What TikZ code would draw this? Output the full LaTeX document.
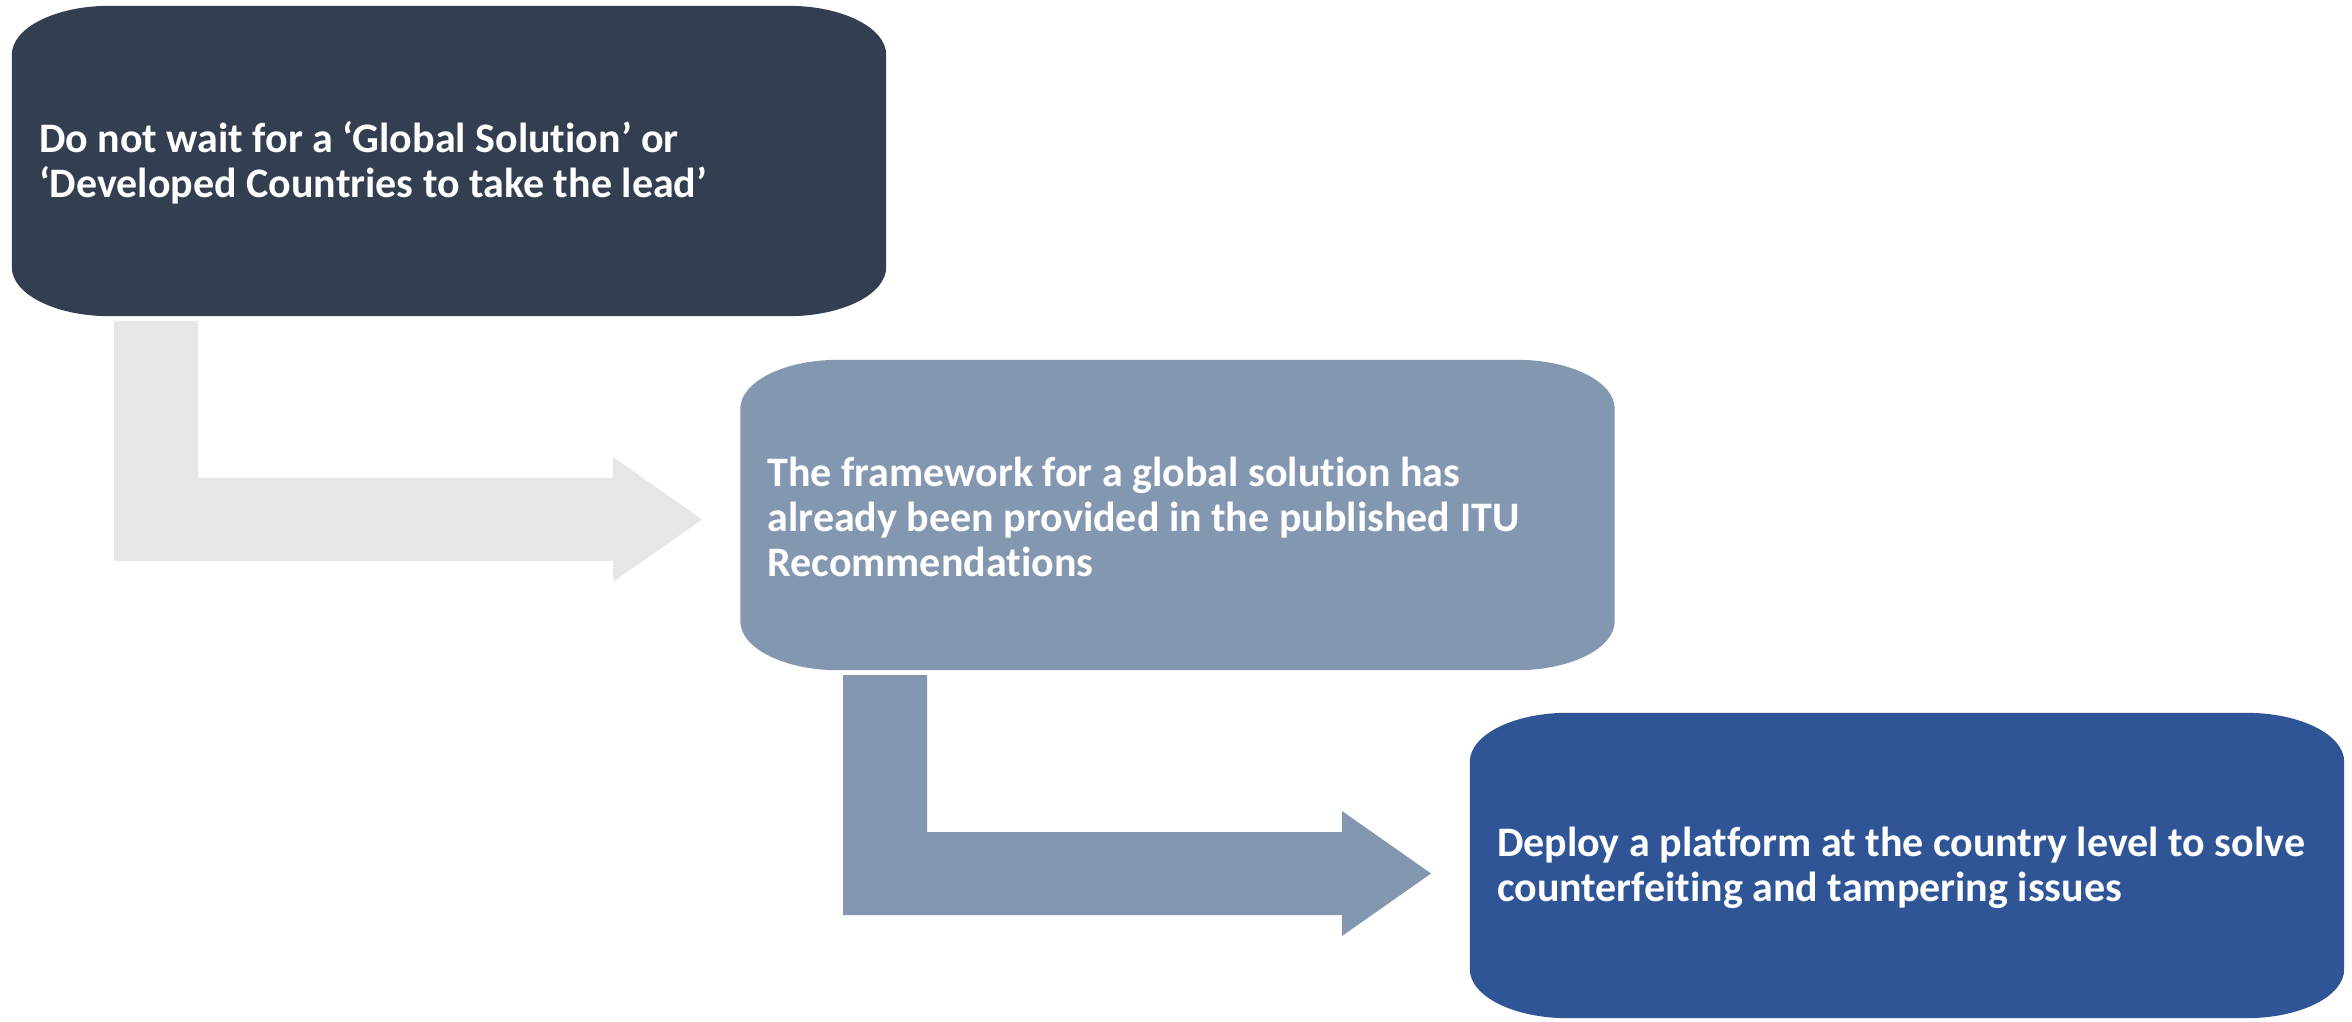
\documentclass[tikz,border=0pt]{standalone}
\usepackage{fontspec}
\setmainfont{Carlito}[Ligatures=NoCommon]
\usetikzlibrary{calc}
\pgfdeclarelayer{background}
\pgfsetlayers{background,main}
\definecolor{cdark}{HTML}{333F50}
\definecolor{cmid}{HTML}{8497B0}
\definecolor{cblue}{HTML}{2F5597}
\definecolor{clight}{HTML}{E6E6E6}
\newcommand\ebox[2]{%
 \begin{pgfonlayer}{background}
 \fill[#2] let \p1=(#1.north west), \p2=(#1.south east) in
  (\x1+98pt,\y1) -- (\x2-98pt,\y1) arc[start angle=90,end angle=0,x radius=98pt,y radius=49pt]
  -- (\x2,\y2+49pt) arc[start angle=0,end angle=-90,x radius=98pt,y radius=49pt]
  -- (\x1+98pt,\y2) arc[start angle=-90,end angle=-180,x radius=98pt,y radius=49pt]
  -- (\x1,\y1-49pt) arc[start angle=180,end angle=90,x radius=98pt,y radius=49pt] -- cycle;
 \end{pgfonlayer}}
\tikzset{
 boxshape/.style={rectangle, inner sep=0pt, minimum width=874pt, minimum height=310pt},
 boxtext/.style={anchor=west, inner sep=0pt, align=left, text=white,
   font=\fontsize{42}{45}\selectfont\bfseries},
}
\begin{document}
\begin{tikzpicture}[x=1pt,y=1pt]
\begin{pgfonlayer}{background}
\fill[white] (0,0) rectangle (2352,1021);
\end{pgfonlayer}
\useasboundingbox (0,0) rectangle (2352,1021);
% boxes
\node[boxshape] (b1) at (449,860) {};
\node[boxshape] (b2) at (1177.5,506) {};
\node[boxshape, minimum height=305pt] (b3) at (1907,155.5) {};
\ebox{b1}{cdark}
\ebox{b2}{cmid}
\ebox{b3}{cblue}
% texts
\node[boxtext] (t1) at ($(b1.west)+(27,-2)$) {Do not wait for a ‘Global Solution’ or\\‘Developed Countries to take the lead’};
\node[boxtext] (t2) at ($(b2.west)+(27,-2)$) {The framework for a global solution has\\already been provided in the published ITU\\Recommendations};
\node[boxtext] (t3) at ($(b3.west)+(27,-2)$) {Deploy a platform at the country level to solve\\counterfeiting and tampering issues};
% bent arrows
\coordinate (a1s) at (114,700);
\coordinate (a2s) at (843,346);
\fill[clight] (a1s) -- (198,700) -- (198,543) -- (613,543) -- (613,564) -- (702,501.5)
  -- (613,439) -- (613,460) -- (114,460) -- cycle;
\fill[cmid] (a2s) -- (927,346) -- (927,189) -- (1342,189) -- (1342,210) -- (1431,147.5)
  -- (1342,85) -- (1342,106) -- (843,106) -- cycle;
\end{tikzpicture}
\end{document}
